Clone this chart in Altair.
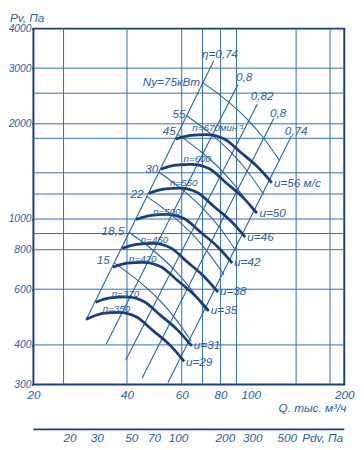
import altair as alt
import pandas as pd

# ---- pressure curves Pv(Q) for each speed n (Q: thousand m3/h, Pv: Pa)
SPEEDS = [670, 600, 550, 500, 450, 420, 370, 350]
N_670_Q = [57.4, 64, 72, 82, 93, 105, 117]
N_670_P = [1791, 1840, 1850, 1795, 1623, 1465, 1302]
N_600_Q = [51.4, 57.3, 64.5, 73.4, 83.3, 94.0, 104.8]
N_600_P = [1436, 1480, 1490, 1444, 1302, 1175, 1044]
N_550_Q = [47.1, 52.5, 59.1, 67.3, 76.3, 86.2, 96.0]
N_550_P = [1207, 1243, 1252, 1213, 1094, 987, 877]
N_500_Q = [42.8, 47.8, 53.7, 61.2, 69.4, 78.4, 87.3]
N_500_P = [997, 1027, 1035, 1002, 904, 816, 725]
N_450_Q = [38.6, 43.0, 48.4, 55.1, 62.5, 70.5, 78.6]
N_450_P = [808, 832, 838, 812, 732, 661, 587]
N_420_Q = [36.0, 40.1, 45.1, 51.4, 58.3, 65.8, 73.3]
N_420_P = [704, 725, 730, 707, 638, 576, 512]
N_370_Q = [31.7, 35.3, 39.8, 45.3, 51.4, 58.0, 64.6]
N_370_P = [546, 563, 567, 549, 495, 447, 397]
N_350_Q = [29.6, 33.4, 37.6, 42.8, 48.6, 54.9, 61.1]
N_350_P = [482, 503, 507, 491, 443, 400, 355]
CURVES_Q = [N_670_Q, N_600_Q, N_550_Q, N_500_Q, N_450_Q, N_420_Q, N_370_Q, N_350_Q]
CURVES_P = [N_670_P, N_600_P, N_550_P, N_500_P, N_450_P, N_420_P, N_370_P, N_350_P]

# ---- efficiency lines (end points)
ETA_IDS = ["0.74a", "0.8a", "0.82", "0.8b", "0.74b"]
ETA_Q_LOW = [29.5, 34.3, 39.6, 44.7, 54.2]
ETA_P_LOW = [479, 403, 358, 314, 304]
ETA_Q_HIGH = [76.0, 91.0, 105.1, 118.6, 135.2]
ETA_P_HIGH = [3160, 2665, 2312, 2078, 1830]

# ---- motor power lines
NY_IDS = [75, 55, 45, 30, 22, 18.5, 15]
NY_75_Q = [70.1, 84.45, 97.9, 109.4, 124.1]
NY_75_P = [2700, 2354, 2059, 1817, 1525]
NY_55_Q = [62.1, 74.9, 86.8, 96.9, 110.0]
NY_55_P = [2124, 1849, 1618, 1429, 1199]
NY_45_Q = [58.1, 70.0, 81.1, 90.6, 102.9]
NY_45_P = [1856, 1617, 1416, 1249, 1048]
NY_30_Q = [50.6, 60.95, 70.7, 78.95, 89.6]
NY_30_P = [1408, 1227, 1073, 947, 795]
NY_22_Q = [46.3, 55.8, 64.66, 72.26, 82.0]
NY_22_P = [1179, 1027, 899, 793, 666]
NY_18_Q = [40.6, 48.95, 56.75, 63.4, 71.9]
NY_18_P = [908, 791, 692, 610, 513]
NY_15_Q = [36.4, 43.8, 50.8, 56.75, 64.4]
NY_15_P = [727, 634, 555, 489.5, 411]
NY_Q = [NY_75_Q, NY_55_Q, NY_45_Q, NY_30_Q, NY_22_Q, NY_18_Q, NY_15_Q]
NY_P = [NY_75_P, NY_55_P, NY_45_P, NY_30_P, NY_22_P, NY_18_P, NY_15_P]

# ---- labels
NY_LABELS = ["Ny=75кВт", "55", "45", "30", "22", "18,5", "15"]
NY_LABEL_Q = [68.7, 61.7, 57.4, 50.4, 45.2, 39.2, 35.2]
NY_LABEL_P = [2703, 2154, 1896, 1438, 1197, 914, 744]

ETA_LABELS = ["η=0,74", "0,8", "0,82", "0,8", "0,74"]
ETA_LABEL_Q = [69.7, 89.7, 100, 115.4, 128.6]
ETA_LABEL_P = [3330, 2820, 2440, 2160, 1900]

N_LABELS = ["n=670мин⁻¹", "n=600", "n=550", "n=500", "n=450", "n=420", "n=370", "n=350"]
N_LABEL_Q = [64.9, 60.8, 55.0, 48.6, 44.3, 40.6, 35.7, 33.4]
N_LABEL_P = [1945, 1545, 1300, 1050, 860, 748, 578, 520]

U_LABELS = ["u=56  м/с", "u=50", "u=46", "u=42", "u=38", "u=35", "u=31", "u=29"]
U_LABEL_Q = [118.8, 106.7, 97.5, 88.4, 79.6, 74.4, 65.6, 61.9]
U_LABEL_P = [1302, 1046, 876, 729, 593, 515, 399, 354]

# ---- axes / grid
X_TICKS = [20, 40, 60, 80, 100, 200]
Y_TICKS = [300, 400, 600, 800, 1000, 2000, 3000, 4000]
GRID_Q = [25, 40, 60, 70, 80, 90, 140, 180]
GRID_P = [400, 600, 800, 900, 1000, 1200, 1400, 1800, 2000, 2500, 3000]
PDV_TICKS = [20, 30, 50, 70, 100, 200, 300, 500]
PDV_PER_Q2 = 0.0291  # Pdv = k * Q^2

INK_DARK = "#173f7e"
INK = "#2462ab"
GRID = "#2f6db5"
FONT = "Liberation Sans"

xs = alt.Scale(type="log", domain=[20, 200], nice=False)
ys = alt.Scale(type="log", domain=[300, 4000], nice=False)
X_AXIS = alt.Axis(values=X_TICKS, format="d", title=None, grid=False, domain=False,
                  ticks=False, labelFont=FONT, labelFontSize=12, labelFontStyle="italic",
                  labelColor=INK, labelPadding=5, labelFlush=False, labelOverlap=False)
Y_AXIS = alt.Axis(values=Y_TICKS, format="d", title=None, grid=False, domain=False,
                  ticks=True, tickSize=2, tickColor=INK_DARK, tickWidth=1.5,
                  labelFont=FONT, labelFontSize=10.5, labelFontStyle="italic",
                  labelColor=INK, labelPadding=0.5, labelOverlap=False)

def X(f="Q"):
    return alt.X(f + ":Q", scale=xs, axis=X_AXIS)

def Y(f="P"):
    return alt.Y(f + ":Q", scale=ys, axis=Y_AXIS)

rows = []
for n, qs, ps in zip(SPEEDS, CURVES_Q, CURVES_P):
    for i, (q, p) in enumerate(zip(qs, ps)):
        rows.append({"series": f"n{n}", "i": i, "Q": q, "P": p})
curves_df = pd.DataFrame(rows)

rows = []
for e, q0, p0, q1, p1 in zip(ETA_IDS, ETA_Q_LOW, ETA_P_LOW, ETA_Q_HIGH, ETA_P_HIGH):
    rows.append({"series": e, "i": 0, "Q": q0, "P": p0})
    rows.append({"series": e, "i": 1, "Q": q1, "P": p1})
eta_df = pd.DataFrame(rows)

rows = []
for k, qs, ps in zip(NY_IDS, NY_Q, NY_P):
    for i, (q, p) in enumerate(zip(qs, ps)):
        rows.append({"series": f"N{k}", "i": i, "Q": q, "P": p})
ny_df = pd.DataFrame(rows)

vgrid = alt.Chart(pd.DataFrame({"Q": GRID_Q})).mark_rule(color=GRID, strokeWidth=1).encode(x=X())
hgrid = alt.Chart(pd.DataFrame({"P": GRID_P})).mark_rule(color=GRID, strokeWidth=1).encode(y=Y())

eta_lines = alt.Chart(eta_df).mark_line(color=INK, strokeWidth=1.1).encode(
    x=X(), y=Y(), detail="series:N", order="i:O")
ny_lines = alt.Chart(ny_df).mark_line(color=INK, strokeWidth=1.1, interpolate="monotone").encode(
    x=X(), y=Y(), detail="series:N", order="i:O")
curve_lines = alt.Chart(curves_df).mark_line(color=INK_DARK, strokeWidth=2.8, interpolate="monotone").encode(
    x=X(), y=Y(), detail="series:N", order="i:O")

def labels(texts, qs, ps, size, align="left"):
    df = pd.DataFrame({"t": texts, "Q": qs, "P": ps})
    return alt.Chart(df).mark_text(align=align, baseline="middle", font=FONT, fontSize=size,
                                   fontStyle="italic", color=INK).encode(x=X(), y=Y(), text="t:N")

ny_text = labels(NY_LABELS, NY_LABEL_Q, NY_LABEL_P, 12, align="right")
eta_text = labels(ETA_LABELS, ETA_LABEL_Q, ETA_LABEL_P, 12)
n_text = labels(N_LABELS, N_LABEL_Q, N_LABEL_P, 10)
u_text = labels(U_LABELS, U_LABEL_Q, U_LABEL_P, 12)

one = pd.DataFrame({"a": [0]})
y_title = alt.Chart(one).mark_text(align="left", baseline="top", font=FONT, fontSize=12,
                                   fontStyle="italic", color=INK).encode(
    x=alt.value(-24), y=alt.value(-16), text=alt.value("Pv,  Па"))
q_title = alt.Chart(one).mark_text(align="right", baseline="middle", font=FONT, fontSize=12,
                                   fontStyle="italic", color=INK).encode(
    x=alt.value(320), y=alt.value(388), text=alt.value("Q.  тыс.  м³/ч"))
pdv_line = alt.Chart(one).mark_rule(color=INK_DARK, strokeWidth=2).encode(
    x=alt.value(0), x2=alt.value(318), y=alt.value(410))
pdv_labels = alt.Chart(pd.DataFrame({"pdv": PDV_TICKS})).transform_calculate(
    Q=f"sqrt(datum.pdv / {PDV_PER_Q2})"
).mark_text(align="center", baseline="middle", font=FONT, fontSize=12, fontStyle="italic",
            color=INK).encode(x=X(), y=alt.value(419), text="pdv:N")
pdv_title = alt.Chart(one).mark_text(align="left", baseline="middle", font=FONT, fontSize=12,
                                     fontStyle="italic", color=INK).encode(
    x=alt.value(275), y=alt.value(419), text=alt.value("Pdv,  Па"))

chart = alt.layer(
    vgrid, hgrid, eta_lines, ny_lines, curve_lines,
    ny_text, eta_text, n_text, u_text, y_title, q_title, pdv_line, pdv_labels, pdv_title
).properties(
    width=318, height=364,
    padding={"left": 26, "top": 16, "right": 12, "bottom": 62},
    autosize=alt.AutoSizeParams(type="none"),
    background="white",
).configure_view(stroke=INK_DARK, strokeWidth=2)

chart.save("out.html", embed_options={"renderer": "svg", "actions": False})
